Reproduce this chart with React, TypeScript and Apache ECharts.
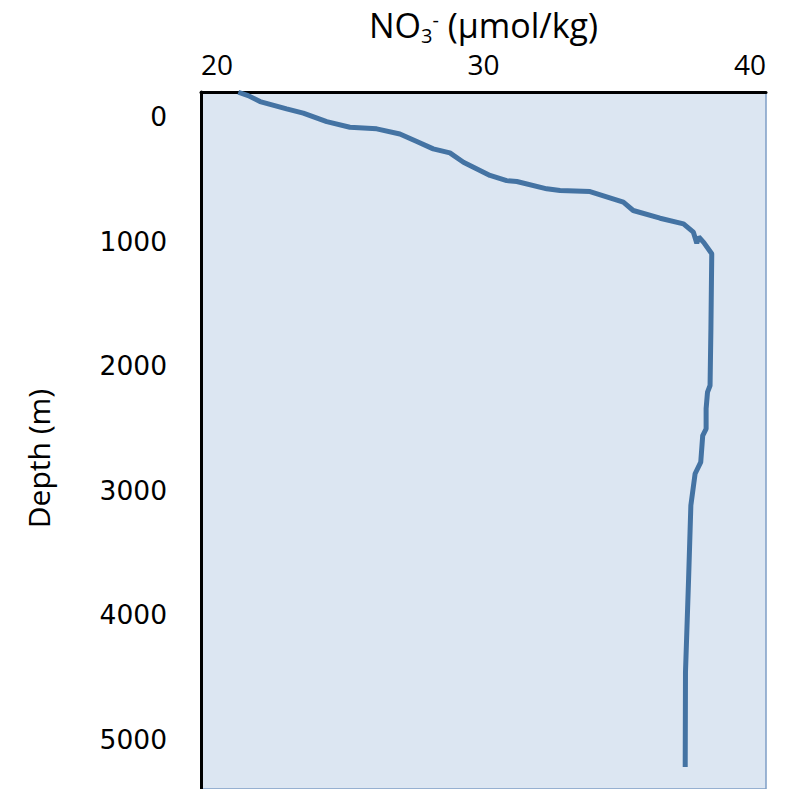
import React, { useEffect, useRef } from "react";
import * as echarts from "echarts";

const nitrate = [
  21.32, 21.67, 22.09, 23.03, 23.62, 24.45, 25.27, 26.22, 27.04, 27.64, 28.22, 28.81, 29.29,
  30.23, 30.82, 31.18, 32.24, 32.71, 33.77, 34.95, 35.3, 36.25, 37.08, 37.43, 37.55, 37.62,
  37.8, 38.08, 38.05, 38.02, 37.93, 37.88, 37.88, 37.76, 37.69, 37.49, 37.34, 37.26, 37.15, 37.14,
];
const depth = [
  -198, -171, -123, -64, -30, 38, 83, 96, 137, 198, 257, 289, 364, 470, 512, 519, 578, 592,
  600, 685, 752, 814, 859, 926, 1015, 965, 1010, 1100, 1700, 2158, 2211, 2345, 2506, 2560,
  2774, 2867, 3122, 3711, 4460, 5223,
];
const depthTicks = [0, 1000, 2000, 3000, 4000, 5000];
const xTicks = [20, 30, 40];

export default function App() {
  const ref = useRef<HTMLDivElement>(null);
  useEffect(() => {
    if (!ref.current) return;
    const chart = echarts.init(ref.current, null, { renderer: "svg" });
    chart.setOption({
      animation: false,
      backgroundColor: "#ffffff",
      grid: {
        left: 201,
        top: 92,
        right: 41,
        bottom: 0,
        outerBoundsMode: "none",
        containLabel: false,
        show: true,
        backgroundColor: "#dce6f2",
        borderColor: "#7f9fc6",
        borderWidth: 1.5,
      },
      xAxis: {
        type: "value",
        position: "top",
        min: xTicks[0],
        max: xTicks[xTicks.length - 1],
        interval: 10,
        name: "{a|NO}{sub|3}{sup|-}{a| (µmol/kg)}",
        nameLocation: "middle",
        nameGap: 44,
        nameTextStyle: {
          rich: {
            a: { fontFamily: "Open Sans", fontSize: 34, color: "#000", lineHeight: 40, verticalAlign: "middle" },
            sub: { fontFamily: "Open Sans", fontSize: 20, color: "#000", lineHeight: 20, verticalAlign: "bottom", padding: [0, 0, 0, 0] },
            sup: { fontFamily: "Open Sans", fontSize: 20, color: "#000", lineHeight: 20, verticalAlign: "top", padding: [4, 0, 0, 0] },
          },
        },
        axisLine: { show: true, onZero: false, lineStyle: { color: "#000", width: 3 } },
        axisTick: { show: false },
        splitLine: { show: false },
        axisLabel: {
          fontFamily: "Open Sans",
          fontSize: 28,
          color: "#000",
          margin: 14,
          alignMinLabel: "left",
          alignMaxLabel: "right",
        },
      },
      yAxis: {
        type: "value",
        inverse: true,
        min: -200,
        max: 5400,
        name: "Depth (m)",
        nameLocation: "middle",
        nameGap: 148,
        nameTextStyle: { fontFamily: "Open Sans", fontSize: 30, color: "#000", padding: [0, 36, 0, 0] },
        axisLine: { show: true, onZero: false, lineStyle: { color: "#000", width: 3 } },
        axisTick: { show: false },
        splitLine: { show: false },
        axisLabel: {
          fontFamily: "DejaVu Sans",
          fontSize: 26.5,
          color: "#000",
          margin: 34,
          customValues: depthTicks,
          formatter: (v: number) => String(v),
        },
      },
      series: [
        {
          type: "line",
          data: nitrate.map((v, i) => [v, depth[i]]),
          showSymbol: false,
          symbol: "none",
          lineStyle: { color: "#4473a3", width: 5 },
          clip: true,
        },
      ],
    });
    return () => chart.dispose();
  }, []);
  return (
    <div
      ref={ref}
      style={{ position: "fixed", left: 0, top: 0, width: 807, height: 789 }}
    />
  );
}
